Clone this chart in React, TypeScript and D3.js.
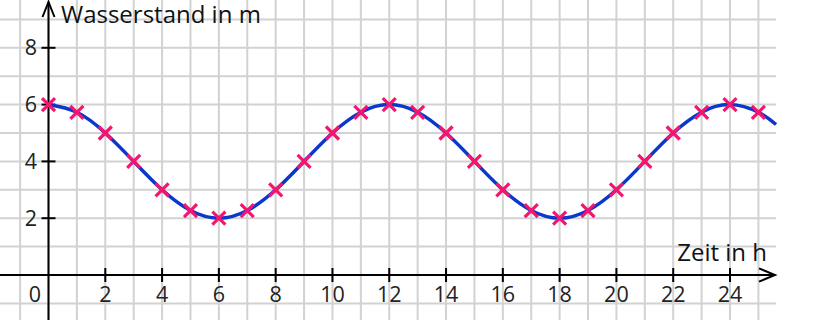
import React from "react";
import * as d3 from "d3";

const hours = [0, 1, 2, 3, 4, 5, 6, 7, 8, 9, 10, 11, 12, 13, 14, 15, 16, 17, 18, 19, 20, 21, 22, 23, 24, 25];
const levels = [6, 5.73, 5, 4, 3, 2.27, 2, 2.27, 3, 4, 5, 5.73, 6, 5.73, 5, 4, 3, 2.27, 2, 2.27, 3, 4, 5, 5.73, 6, 5.73];
const curveEnd = { t: 25.62, v: 5.3 };
const xTicks = [2, 4, 6, 8, 10, 12, 14, 16, 18, 20, 22, 24];
const yTicks = [2, 4, 6, 8];
const xTitle = "Zeit in h";
const yTitle = "Wasserstand in m";

const W = 840;
const H = 320;

export default function App() {
  const x = d3.scaleLinear().domain([0, 24]).range([48.5, 730]);
  const y = d3.scaleLinear().domain([0, 8]).range([275, 47.8]);
  const right = x(curveEnd.t);

  const gridX = d3.range(-2, 27).map((t) => x(t)).filter((px) => px >= -1 && px <= right);
  const gridY = d3.range(-2, 12).map((v) => y(v)).filter((py) => py >= -1 && py <= H + 1);

  const pts: [number, number][] = hours.map((h, i) => [h, levels[i]]);
  pts.push([curveEnd.t, curveEnd.v]);
  const line = d3
    .line<[number, number]>()
    .x((d) => x(d[0]))
    .y((d) => y(d[1]))
    .curve(d3.curveNatural);

  const x0 = x(0);
  const y0 = y(0);
  const font = "'Open Sans', 'Noto Sans', sans-serif";
  const ms = 6.5;

  return (
    <svg
      width={W}
      height={H}
      style={{ position: "absolute", left: 0, top: 0, background: "#fff" }}
    >
      <g stroke="#d2d2d2" strokeWidth={2}>
        {gridX.map((px, i) => (
          <line key={"gx" + i} x1={px} x2={px} y1={0} y2={H} />
        ))}
        {gridY.map((py, i) => (
          <line key={"gy" + i} x1={0} x2={right} y1={py} y2={py} />
        ))}
      </g>
      <g stroke="#000" strokeWidth={2} fill="none">
        <line x1={0} x2={right - 1} y1={y0} y2={y0} />
        <polyline points={`${right - 17},${y0 - 6.7} ${right - 1},${y0} ${right - 17},${y0 + 6.7}`} />
        <line x1={x0} x2={x0} y1={H} y2={2} />
        <polyline points={`${x0 - 6},${17} ${x0},${2} ${x0 + 6},${17}`} />
        {xTicks.map((t) => (
          <line key={"xt" + t} x1={x(t)} x2={x(t)} y1={y0 - 7} y2={y0 + 7} />
        ))}
        {yTicks.map((v) => (
          <line key={"yt" + v} x1={x0 - 7} x2={x0 + 7} y1={y(v)} y2={y(v)} />
        ))}
      </g>
      <g fontFamily={font} fontSize={21.5} fill="#222">
        {xTicks.map((t) => (
          <text key={"xl" + t} x={x(t)} y={302} textAnchor="middle">
            {t}
          </text>
        ))}
        {yTicks.map((v) => (
          <text key={"yl" + v} x={37} y={y(v) + 7.5} textAnchor="end">
            {v}
          </text>
        ))}
        <text x={35} y={302} textAnchor="middle">0</text>
      </g>
      <g fontFamily={font} fontSize={24} fill="#111">
        <text x={61} y={23}>{yTitle}</text>
        <text x={767} y={261} textAnchor="end">{xTitle}</text>
      </g>
      <path d={line(pts) || ""} fill="none" stroke="#0a37cc" strokeWidth={3.5} />
      <g stroke="#f5146e" strokeWidth={3.2} strokeLinecap="butt">
        {hours.map((h, i) => (
          <g key={"m" + h} transform={`translate(${x(h)},${y(levels[i])})`}>
            <line x1={-ms} y1={-ms} x2={ms} y2={ms} />
            <line x1={-ms} y1={ms} x2={ms} y2={-ms} />
          </g>
        ))}
      </g>
    </svg>
  );
}
